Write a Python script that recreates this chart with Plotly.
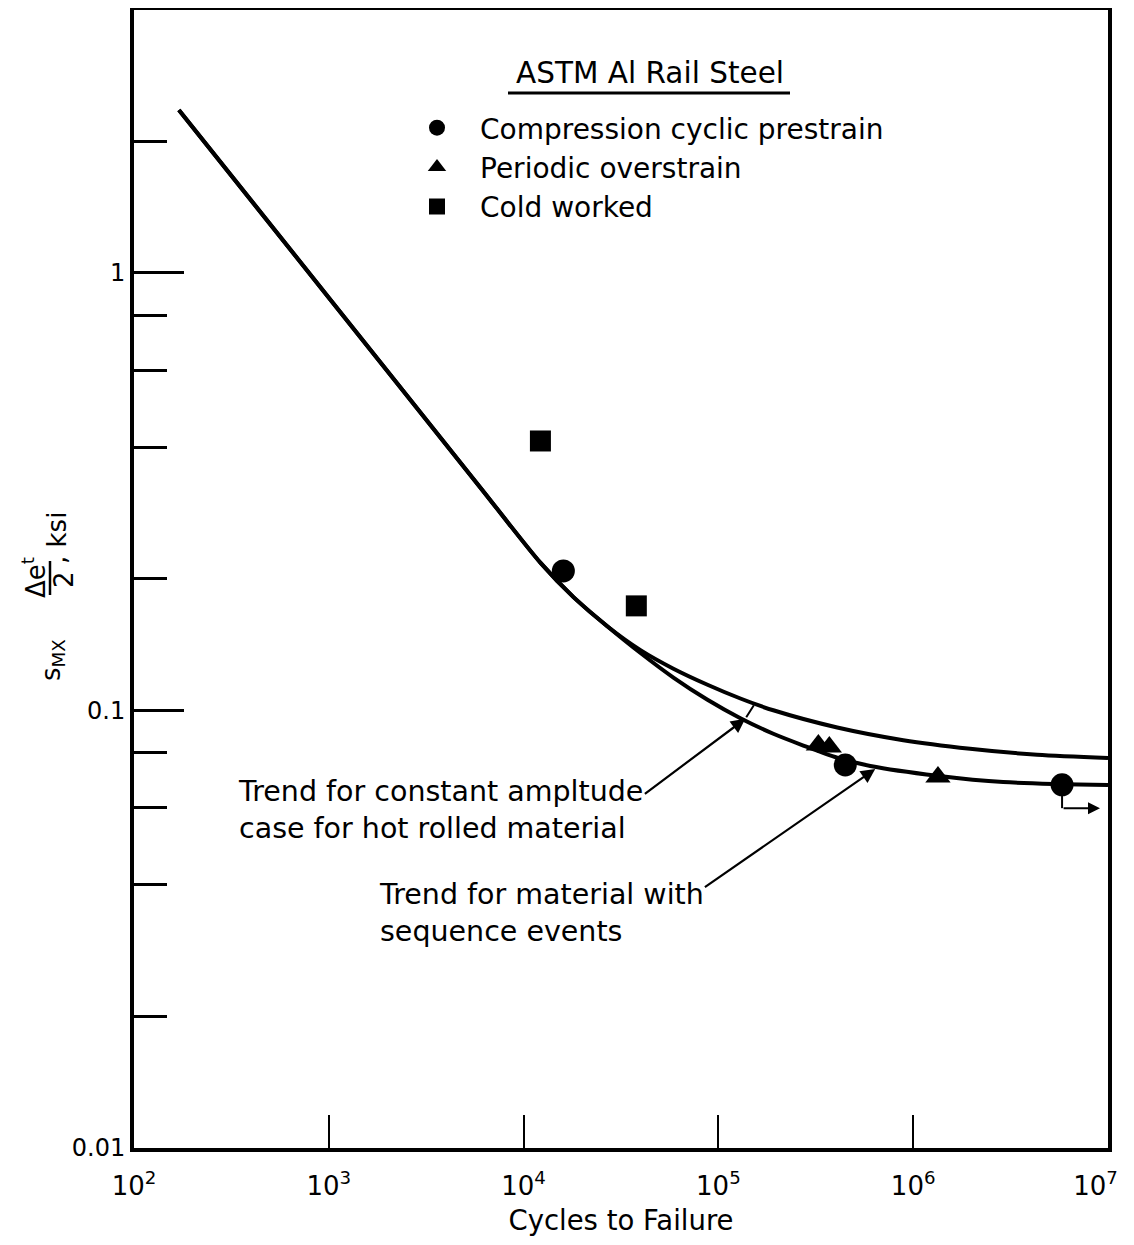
import numpy as np
import plotly.graph_objects as go

# ---------------- data ----------------
# Data points (cycles to failure, s_MX * de^t/2 in ksi)
circle_x = [16000, 448000, 5.81e6]
circle_y = [0.2084, 0.0751, 0.0676]
tri_x = [326000, 371000, 1.34e6]
tri_y = [0.0834, 0.0825, 0.0705]
square_x = [12200, 37900]
square_y = [0.413, 0.1734]

# Trend curves: shared high-stress branch, then two separate tails
common_x = [170, 1024, 6019, 12220, 18030, 26980]
common_y = [2.358, 0.8665, 0.3226, 0.2174, 0.1816, 0.1556]
upper_x = [39810, 58750, 87900, 129700, 191400, 407400, 889200, 1.959e6, 4.325e6, 1e7]
upper_y = [0.1374, 0.1246, 0.1145, 0.1065, 0.1001, 0.09143, 0.08553, 0.08177, 0.07921, 0.07789]
lower_x = [39810, 58750, 87900, 129700, 191400, 272900, 407400, 602600, 1.327e6, 2.897e6, 1e7]
lower_y = [0.1353, 0.1189, 0.1058, 0.0960, 0.08846, 0.08316, 0.07798, 0.07469, 0.07096, 0.06862, 0.06752]

# Run-out indicator for the last circle
runout_x = [5.81e6, 5.81e6, 9.1e6]
runout_y = [0.0676, 0.0598, 0.0598]

# Arrows (tail -> tip) for the trend annotations
arrow1_tail = (10**4.615, 10**-1.193)
arrow1_tip = (10**5.138, 10**-1.019)
arrow1_ext = (10**5.182, 10**-0.988)
arrow2_tail = (10**4.923, 10**-1.406)
arrow2_tip = (10**5.805, 10**-1.134)

x_tickvals = [1e2, 1e3, 1e4, 1e5, 1e6, 1e7]
x_ticktext = ["10<sup>2</sup>", "10<sup>3</sup>", "10<sup>4</sup>",
              "10<sup>5</sup>", "10<sup>6</sup>", "10<sup>7</sup>\u00a0\u00a0\u00a0"]
y_tickvals = [0.01, 0.1, 1]
y_ticktext = ["0.01", "0.1", "1"]
y_minor = [0.02, 0.04, 0.06, 0.08, 0.2, 0.4, 0.6, 0.8, 2]

FONT = "DejaVu Sans"
OFF = 8  # page body margin
W, H = 1126, 1228
L, R, T, B = 126, 26, 2, 88
PW, PH = W - L - R, H - T - B


def px(xpage):
    return (xpage - OFF - L) / PW


def py(ypage):
    return (H - B - (ypage - OFF)) / PH


fig = go.Figure()

line_style = dict(color="black", width=4, shape="spline", smoothing=0.8)
fig.add_trace(go.Scatter(x=common_x + upper_x, y=common_y + upper_y, mode="lines",
                         line=line_style, showlegend=False, hoverinfo="skip"))
fig.add_trace(go.Scatter(x=common_x + lower_x, y=common_y + lower_y, mode="lines",
                         line=line_style, showlegend=False, hoverinfo="skip"))
fig.add_trace(go.Scatter(x=runout_x[:2], y=runout_y[:2], mode="lines",
                         line=dict(color="black", width=2), showlegend=False,
                         hoverinfo="skip"))

fig.add_trace(go.Scatter(x=circle_x, y=circle_y, mode="markers",
                         name="Compression cyclic prestrain", legendgroup="a",
                         marker=dict(symbol="circle", size=23, color="black")))
fig.add_trace(go.Scatter(x=tri_x, y=tri_y, mode="markers",
                         name="Periodic overstrain", legendgroup="b",
                         marker=dict(symbol="triangle-up", size=22, color="black")))
fig.add_trace(go.Scatter(x=square_x, y=square_y, mode="markers",
                         name="Cold worked", legendgroup="c",
                         marker=dict(symbol="square", size=21, color="black")))

annotations = []


def arrow(tail, tip, width=2.2, head=2, size=1.3):
    return dict(x=np.log10(tip[0]), y=np.log10(tip[1]), xref="x", yref="y",
                ax=np.log10(tail[0]), ay=np.log10(tail[1]), axref="x", ayref="y",
                showarrow=True, arrowhead=head, arrowsize=size, arrowwidth=width,
                arrowcolor="black", text="")


annotations.append(arrow(arrow1_tail, arrow1_tip))
annotations.append(arrow(arrow1_tip, arrow1_ext, width=2, head=0))
annotations.append(arrow(arrow2_tail, arrow2_tip))
annotations.append(arrow((runout_x[1], runout_y[1]), (runout_x[2], runout_y[2]),
                         width=2, head=2, size=1.2))

txt_font = dict(family=FONT, size=28.5, color="black")
annotations.append(dict(text="Trend for constant ampltude<br>case for hot rolled material",
                        x=px(236), y=py(810), xref="paper", yref="paper",
                        xanchor="left", yanchor="middle", align="left",
                        showarrow=False, font=txt_font))
annotations.append(dict(text="Trend for material with<br>sequence events",
                        x=px(377), y=py(913), xref="paper", yref="paper",
                        xanchor="left", yanchor="middle", align="left",
                        showarrow=False, font=txt_font))
annotations.append(dict(text="ASTM Al Rail Steel", x=px(650), y=py(73),
                        xref="paper", yref="paper", xanchor="center", yanchor="middle",
                        showarrow=False, font=dict(family=FONT, size=29.5, color="black")))

# y-axis label built as a rotated fraction
lab_font = dict(family=FONT, size=26, color="black")
for text, xx, yy in [("s<sub>MX</sub>", 52, 660), ("\u0394e<sup>t</sup>", 34, 578),
                     ("2", 64, 580), (", ksi", 57, 538)]:
    annotations.append(dict(text=text, x=px(xx), y=py(yy), xref="paper", yref="paper",
                            xanchor="center", yanchor="middle", textangle=-90,
                            showarrow=False, font=lab_font))

fig.update_layout(
    width=W, height=H,
    margin=dict(l=L, r=R, t=T, b=B, autoexpand=False),
    paper_bgcolor="white", plot_bgcolor="white",
    font=dict(family=FONT, color="black"),
    annotations=annotations,
    shapes=[
        dict(type="line", xref="paper", yref="paper", x0=px(508), x1=px(790),
             y0=py(93), y1=py(93), line=dict(color="black", width=3)),
        dict(type="line", xref="paper", yref="paper", x0=px(50), x1=px(50),
             y0=py(561), y1=py(595), line=dict(color="black", width=2.5)),
    ],
    legend=dict(x=px(394), y=py(103), xanchor="left", yanchor="top",
                bgcolor="rgba(0,0,0,0)", itemwidth=76, tracegroupgap=0,
                font=dict(family=FONT, size=28, color="black")),
    showlegend=True,
)

fig.update_xaxes(type="log", range=[2, 7], showgrid=False, zeroline=False,
                 showline=True, linecolor="black", linewidth=4, mirror=True,
                 ticks="inside", ticklen=33, tickwidth=2, tickcolor="black",
                 tickvals=x_tickvals, ticktext=x_ticktext, automargin=False,
                 tickfont=dict(family=FONT, size=26, color="black"),
                 ticklabelstandoff=12, ticklabeloverflow="allow",
                 title=dict(text="Cycles to Failure", standoff=16,
                            font=dict(family=FONT, size=27.5, color="black")))
fig.update_yaxes(type="log", range=[-2, np.log10(3.99)], showgrid=False, zeroline=False,
                 showline=True, linecolor="black", linewidth=4, mirror=True,
                 ticks="inside", ticklen=50, tickwidth=3, tickcolor="black",
                 tickvals=y_tickvals, ticktext=y_ticktext, automargin=False,
                 tickfont=dict(family=FONT, size=24, color="black"),
                 minor=dict(tickmode="array", tickvals=y_minor, ticks="inside",
                            ticklen=33, tickwidth=3, tickcolor="black", showgrid=False))

fig.write_html("out.html")
